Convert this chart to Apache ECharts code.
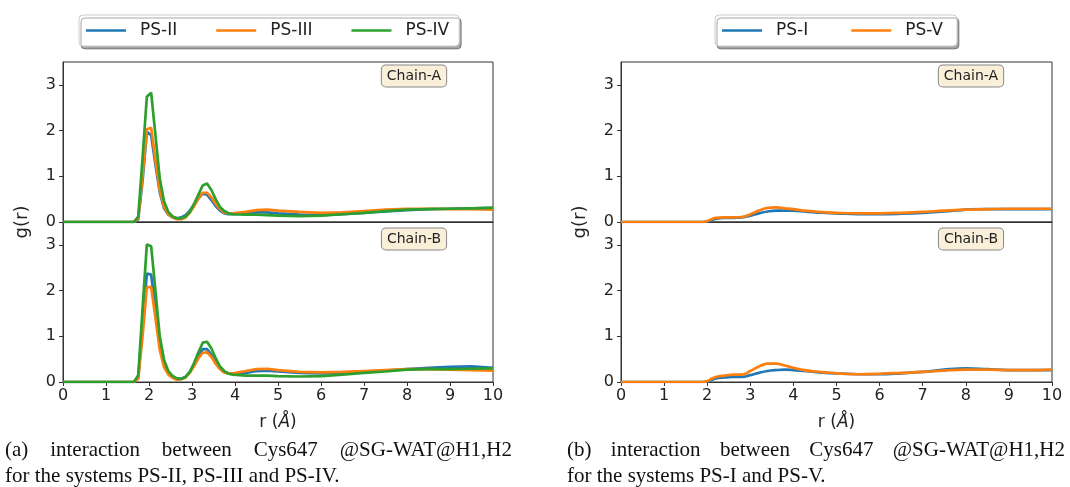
<!DOCTYPE html>
<html>
<head>
<meta charset="utf-8">
<script src="https://cdn.jsdelivr.net/npm/echarts@6/dist/echarts.min.js"></script>
<style>
  html, body { margin: 0; padding: 0; background: #fff; }
  #chart { width: 1070px; height: 487px; }
</style>
</head>
<body>
<div id="chart"></div>
<script>
// r grid for panel (a), denser around the first two peaks
const rLeft = [0, 1.65, 1.75, 1.85, 1.95, 2.05, 2.15, 2.25, 2.35, 2.45, 2.55, 2.65, 2.75, 2.85, 2.95,
  3.05, 3.15, 3.25, 3.35, 3.45, 3.55, 3.65, 3.75, 3.85, 3.95, 4.25, 4.5, 4.75, 5.0, 5.5, 6.0, 6.5,
  7.0, 7.5, 8.0, 8.5, 9.0, 9.5, 10.0];

// panel (a), Chain-A
const a_ps2 = [0, 0, 0.06, 0.9, 1.97, 1.9, 1.25, 0.65, 0.3, 0.16, 0.1, 0.08, 0.1, 0.15, 0.25,
  0.38, 0.52, 0.62, 0.6, 0.48, 0.35, 0.25, 0.19, 0.17, 0.17, 0.19, 0.21, 0.21, 0.19, 0.16, 0.15, 0.17,
  0.2, 0.23, 0.26, 0.28, 0.29, 0.3, 0.31];
const a_ps3 = [0, 0, 0.08, 1.0, 2.03, 2.06, 1.35, 0.7, 0.33, 0.17, 0.1, 0.06, 0.06, 0.1, 0.2,
  0.35, 0.52, 0.64, 0.64, 0.54, 0.4, 0.28, 0.21, 0.19, 0.19, 0.22, 0.26, 0.27, 0.25, 0.22, 0.2, 0.21,
  0.24, 0.27, 0.29, 0.29, 0.28, 0.28, 0.27];
const a_ps4 = [0, 0, 0.12, 1.4, 2.74, 2.83, 1.9, 0.95, 0.45, 0.22, 0.12, 0.08, 0.08, 0.12, 0.22,
  0.4, 0.6, 0.8, 0.84, 0.7, 0.5, 0.33, 0.24, 0.19, 0.17, 0.16, 0.16, 0.15, 0.14, 0.13, 0.14, 0.17,
  0.2, 0.24, 0.27, 0.28, 0.29, 0.3, 0.31];

// panel (a), Chain-B
const b_ps2 = [0, 0, 0.1, 1.2, 2.37, 2.35, 1.6, 0.8, 0.38, 0.19, 0.11, 0.07, 0.07, 0.11, 0.22,
  0.38, 0.57, 0.72, 0.72, 0.6, 0.43, 0.3, 0.22, 0.19, 0.18, 0.2, 0.24, 0.25, 0.23, 0.2, 0.19, 0.2,
  0.23, 0.25, 0.28, 0.31, 0.33, 0.34, 0.31];
const b_ps3 = [0, 0, 0.07, 1.0, 2.07, 2.08, 1.4, 0.7, 0.32, 0.16, 0.09, 0.05, 0.06, 0.1, 0.2,
  0.35, 0.52, 0.64, 0.65, 0.55, 0.4, 0.28, 0.21, 0.19, 0.19, 0.24, 0.28, 0.29, 0.26, 0.22, 0.21, 0.22,
  0.24, 0.26, 0.28, 0.28, 0.27, 0.26, 0.25];
const b_ps4 = [0, 0, 0.15, 1.6, 3.01, 2.97, 2.0, 1.0, 0.48, 0.24, 0.13, 0.08, 0.07, 0.11, 0.22,
  0.42, 0.65, 0.86, 0.88, 0.74, 0.52, 0.34, 0.24, 0.18, 0.16, 0.14, 0.14, 0.14, 0.13, 0.12, 0.13, 0.16,
  0.2, 0.23, 0.27, 0.28, 0.28, 0.29, 0.3];

// r grid for panel (b)
const rRight = [0, 1.9, 2.0, 2.1, 2.2, 2.4, 2.6, 2.8, 3.0, 3.2, 3.4, 3.6, 3.8, 4.0, 4.25, 4.5,
  4.75, 5.0, 5.5, 6.0, 6.5, 7.0, 7.5, 8.0, 8.5, 9.0, 9.5, 10.0];

const a_ps1 = [0, 0, 0.01, 0.04, 0.07, 0.09, 0.09, 0.1, 0.14, 0.19, 0.23, 0.25, 0.25, 0.25, 0.23, 0.21,
  0.2, 0.19, 0.17, 0.17, 0.18, 0.2, 0.23, 0.27, 0.28, 0.28, 0.28, 0.28];
const a_ps5 = [0, 0, 0.02, 0.06, 0.09, 0.1, 0.1, 0.11, 0.17, 0.25, 0.31, 0.32, 0.3, 0.28, 0.25, 0.23,
  0.21, 0.2, 0.19, 0.19, 0.2, 0.22, 0.25, 0.27, 0.28, 0.29, 0.29, 0.29];
const b_ps1 = [0, 0, 0.01, 0.04, 0.08, 0.1, 0.11, 0.11, 0.15, 0.2, 0.24, 0.26, 0.27, 0.26, 0.24, 0.22,
  0.2, 0.19, 0.17, 0.17, 0.19, 0.22, 0.27, 0.3, 0.28, 0.26, 0.26, 0.26];
const b_ps5 = [0, 0, 0.02, 0.07, 0.11, 0.14, 0.16, 0.16, 0.24, 0.34, 0.4, 0.4, 0.36, 0.31, 0.26, 0.23,
  0.21, 0.19, 0.17, 0.18, 0.2, 0.22, 0.25, 0.27, 0.27, 0.26, 0.26, 0.27];

const xTicks = [0, 1, 2, 3, 4, 5, 6, 7, 8, 9, 10];
const yTicks = [0, 1, 2, 3];

const captionA = ['(a) interaction between Cys647 @SG-WAT@H1,H2', 'for the systems PS-II, PS-III and PS-IV.'];
const captionB = ['(b) interaction between Cys647 @SG-WAT@H1,H2', 'for the systems PS-I and PS-V.'];

const BLUE = '#1f77b4', ORANGE = '#ff7f0e', GREEN = '#2ca02c';
const FONT = '"DejaVu Sans", sans-serif';
const SERIF = '"Liberation Serif", "Times New Roman", serif';

function pairs(xs, ys) { return xs.map((x, i) => [x, ys[i]]); }

const grids = [
  { left: 63, top: 62, width: 430, height: 160 },
  { left: 63, top: 222, width: 430, height: 160 },
  { left: 621, top: 62, width: 431, height: 160 },
  { left: 621, top: 222, width: 431, height: 160 }
].map(g => Object.assign(g, { show: true, borderColor: '#333', borderWidth: 1, backgroundColor: 'transparent' }));

function xAxis(idx, bottom) {
  return {
    type: 'value', gridIndex: idx, min: 0, max: 10, interval: 1,
    axisLine: { show: true, lineStyle: { color: '#333' } },
    axisTick: { show: bottom, length: 4, lineStyle: { color: '#333' } },
    axisLabel: { show: bottom, fontSize: 16, color: '#222', fontFamily: FONT, margin: 6,
      formatter: v => xTicks.includes(v) ? String(v) : '' },
    splitLine: { show: false },
    name: bottom ? '{n|r (}{i|Å}{n|)}' : '',
    nameLocation: 'middle', nameGap: 32,
    nameTextStyle: { rich: {
      n: { fontSize: 17, fontFamily: FONT, color: '#222' },
      i: { fontSize: 17, fontFamily: FONT, fontStyle: 'italic', color: '#222' } } }
  };
}

function yAxis(idx) {
  return {
    type: 'value', gridIndex: idx, min: 0, max: 3.5, interval: 1,
    axisLine: { show: true, lineStyle: { color: '#333' } },
    axisTick: { show: true, length: 4, lineStyle: { color: '#333' } },
    axisLabel: { fontSize: 16, color: '#222', fontFamily: FONT, margin: 7, showMaxLabel: false,
      formatter: v => yTicks.includes(v) ? String(v) : '' },
    splitLine: { show: false }
  };
}

function line(name, color, idx, xs, ys, smooth) {
  return {
    name: name, type: 'line', xAxisIndex: idx, yAxisIndex: idx,
    data: pairs(xs, ys), symbol: 'none', smooth: smooth,
    lineStyle: { color: color, width: 2.7 }, itemStyle: { color: color },
    z: 3
  };
}

function chainLabel(text, x, y) {
  return {
    type: 'text', x: x, y: y, z: 10,
    style: {
      text: text, fontSize: 14, fontFamily: FONT, fill: '#222',
      align: 'center', verticalAlign: 'middle',
      backgroundColor: '#faefd9', borderColor: '#888', borderWidth: 1, borderRadius: 4,
      padding: [4, 5, 3, 5]
    }
  };
}

// lay out a justified caption line word by word
const CAP_SIZE = 21;
const measureCtx = document.createElement('canvas').getContext('2d');
measureCtx.font = CAP_SIZE + 'px ' + SERIF;
function captionLine(text, x0, x1, y, justify) {
  const words = text.split(' ');
  const st = { fontSize: CAP_SIZE, fontFamily: SERIF, fill: '#111', verticalAlign: 'middle' };
  if (!justify) {
    return [{ type: 'text', x: x0, y: y, style: Object.assign({ text: text }, st) }];
  }
  const widths = words.map(w => measureCtx.measureText(w).width);
  const total = widths.reduce((s, w) => s + w, 0);
  const gap = (x1 - x0 - total) / (words.length - 1);
  let x = x0;
  return words.map((w, i) => {
    const el = { type: 'text', x: x, y: y, style: Object.assign({ text: w }, st) };
    x += widths[i] + gap;
    return el;
  });
}

const legendBase = {
  orient: 'horizontal', top: 15, icon: 'rect', itemWidth: 40, itemHeight: 2.7,
  padding: [7, 10, 7, 7],
  backgroundColor: '#fff', borderColor: '#ccc', borderWidth: 1, borderRadius: 4,
  shadowColor: 'rgba(0,0,0,0.35)', shadowBlur: 0, shadowOffsetX: 2, shadowOffsetY: 3,
  textStyle: { fontSize: 17, fontFamily: FONT, color: '#222', padding: [0, 0, 0, 9] }
};

const chart = echarts.init(document.getElementById('chart'), null, { renderer: 'canvas' });
chart.setOption({
  animation: false,
  backgroundColor: '#fff',
  grid: grids,
  xAxis: [xAxis(0, false), xAxis(1, true), xAxis(2, false), xAxis(3, true)],
  yAxis: [yAxis(0), yAxis(1), yAxis(2), yAxis(3)],
  legend: [
    Object.assign({}, legendBase, { left: 79, itemGap: 39, data: ['PS-II', 'PS-III', 'PS-IV'] }),
    Object.assign({}, legendBase, { left: 715, itemGap: 43, padding: [7, 14, 7, 7], data: ['PS-I', 'PS-V'] })
  ],
  series: [
    line('PS-II', BLUE, 0, rLeft, a_ps2, false),
    line('PS-III', ORANGE, 0, rLeft, a_ps3, false),
    line('PS-IV', GREEN, 0, rLeft, a_ps4, false),
    line('PS-II', BLUE, 1, rLeft, b_ps2, false),
    line('PS-III', ORANGE, 1, rLeft, b_ps3, false),
    line('PS-IV', GREEN, 1, rLeft, b_ps4, false),
    line('PS-I', BLUE, 2, rRight, a_ps1, 0.4),
    line('PS-V', ORANGE, 2, rRight, a_ps5, 0.4),
    line('PS-I', BLUE, 3, rRight, b_ps1, 0.4),
    line('PS-V', ORANGE, 3, rRight, b_ps5, 0.4)
  ],
  graphic: [
    chainLabel('Chain-A', 414, 76),
    chainLabel('Chain-B', 414, 239),
    chainLabel('Chain-A', 971, 76),
    chainLabel('Chain-B', 971, 239),
    { type: 'text', x: 22, y: 222, rotation: Math.PI / 2,
      style: { text: 'g(r)', fontSize: 18, fontFamily: FONT, fill: '#222', align: 'center', verticalAlign: 'middle' } },
    { type: 'text', x: 580, y: 222, rotation: Math.PI / 2,
      style: { text: 'g(r)', fontSize: 18, fontFamily: FONT, fill: '#222', align: 'center', verticalAlign: 'middle' } }
  ].concat(
    captionLine(captionA[0], 5, 512, 450, true),
    captionLine(captionA[1], 5, 512, 476, false),
    captionLine(captionB[0], 567, 1065, 450, true),
    captionLine(captionB[1], 567, 1065, 476, false)
  )
});
</script>
</body>
</html>
